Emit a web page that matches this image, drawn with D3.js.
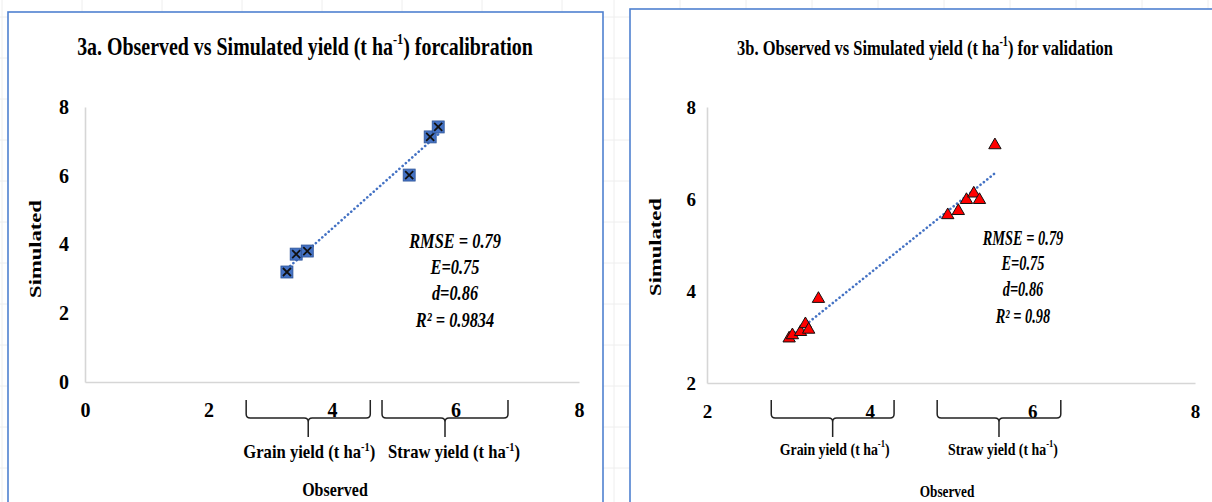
<!DOCTYPE html>
<html>
<head>
<meta charset="utf-8">
<script src="https://cdn.jsdelivr.net/npm/d3@7"></script>
<style>
  body { margin: 0; background: #fff; }
  svg { display: block; }
</style>
</head>
<body>
<div id="main"></div>
<script>
// 3a - calibration (observed vs simulated, t/ha)
const calibObserved  = [3.27, 3.42, 3.60, 5.25, 5.59, 5.72];
const calibSimulated = [3.20, 3.72, 3.81, 6.02, 7.13, 7.42];
const calibStats = ['RMSE = 0.79', 'E=0.75', 'd=0.86', 'R² = 0.9834'];

// 3b - validation
const validObserved  = [3.01, 3.05, 3.15, 3.21, 3.25, 3.37, 4.96, 5.09, 5.19, 5.28, 5.35, 5.54];
const validSimulated = [2.97, 3.04, 3.11, 3.28, 3.16, 3.83, 5.65, 5.74, 5.98, 6.12, 5.98, 7.17];
const validStats = ['RMSE = 0.79', 'E=0.75', 'd=0.86', 'R² = 0.98'];

// axis ticks
const calibTicks = [0, 2, 4, 6, 8];
const validTicks = [2, 4, 6, 8];

// brace groups under the x axis (observed ranges)
const groupNames = ['Grain yield (t ha', 'Straw yield (t ha'];
const calibBraces = [[2.61, 4.62], [4.81, 6.85]];
const validBraces = [[2.79, 4.30], [4.83, 6.35]];

const width = 1212, height = 502;
const serif = '"Liberation Serif", "Times New Roman", serif';

let svg = d3.select('#main')
  .append('svg')
    .attr('width', width)
    .attr('height', height);

svg.append('rect').attr('width', width).attr('height', height).attr('fill', '#fff');

// faint spreadsheet grid behind the chart boxes
const grid = svg.append('g').attr('stroke', '#eeeeee').attr('stroke-width', 1);
d3.range(2, 620, 80).forEach(x => grid.append('line').attr('x1', x).attr('x2', x).attr('y1', 0).attr('y2', height));
d3.range(614, width, 66).forEach(x => grid.append('line').attr('x1', x).attr('x2', x).attr('y1', 0).attr('y2', height));
d3.range(17, height, 41).forEach(y => grid.append('line').attr('x1', 0).attr('x2', width).attr('y1', y).attr('y2', y));

// text helper: parts can be strings or {sup: '...'}; width squeezes text horizontally
function label(parent, x, y, parts, o) {
  const g = parent.append('g')
    .attr('transform', `translate(${x},${y})` + (o.rotate ? ` rotate(${o.rotate})` : ''));
  const t = g.append('text')
    .attr('font-family', serif)
    .attr('font-size', o.size)
    .attr('font-weight', o.weight || 'bold')
    .attr('font-style', o.italic ? 'italic' : 'normal')
    .attr('text-anchor', o.anchor || 'middle')
    .attr('dominant-baseline', 'central')
    .attr('fill', '#000');
  (Array.isArray(parts) ? parts : [parts]).forEach(p => {
    if (typeof p === 'string') t.append('tspan').text(p);
    else t.append('tspan').attr('font-size', '0.62em').attr('baseline-shift', '45%').text(p.sup);
  });
  if (o.width) {
    const w = t.node().getBBox().width;
    t.attr('transform', `scale(${o.width / w},1)`);
  } else if (o.sx) {
    t.attr('transform', `scale(${o.sx},1)`);
  }
  return t;
}

function regression(xs, ys) {
  const mx = d3.mean(xs), my = d3.mean(ys);
  const sxy = d3.sum(xs, (v, i) => (v - mx) * (ys[i] - my));
  const sxx = d3.sum(xs, v => (v - mx) * (v - mx));
  const slope = sxy / sxx;
  return { slope, intercept: my - slope * mx };
}

function drawPanel(cfg) {
  const g = svg.append('g');

  // chart box
  g.append('rect')
    .attr('x', cfg.box[0]).attr('y', cfg.box[1])
    .attr('width', cfg.box[2]).attr('height', cfg.box[3])
    .attr('fill', '#fff')
    .attr('stroke', '#4f81d0')
    .attr('stroke-width', 1.6);

  const x = d3.scaleLinear().domain(cfg.xDomain).range(cfg.xRange);
  const y = d3.scaleLinear().domain(cfg.yDomain).range(cfg.yRange);

  // axes
  const yAxis = g.append('g')
    .attr('transform', `translate(${cfg.xRange[0]},0)`)
    .call(d3.axisLeft(y).tickValues(cfg.ticks).tickSize(0).tickPadding(cfg.yPad).tickFormat(d3.format('d')));
  const xAxis = g.append('g')
    .attr('transform', `translate(0,${cfg.yRange[0]})`)
    .call(d3.axisBottom(x).tickValues(cfg.ticks).tickSize(0).tickPadding(cfg.xPad).tickFormat(d3.format('d')));
  [xAxis, yAxis].forEach(a => {
    a.select('.domain').attr('stroke', '#d6d6d6').attr('stroke-width', 1.6);
    a.selectAll('text')
      .attr('font-family', serif)
      .attr('font-weight', 'bold')
      .attr('font-size', cfg.tickSize)
      .attr('fill', '#000');
  });

  // trendline (least squares over the observed range)
  const fit = regression(cfg.obs, cfg.sim);
  const [x0, x1] = d3.extent(cfg.obs);
  g.append('line')
    .attr('x1', x(x0)).attr('y1', y(fit.intercept + fit.slope * x0))
    .attr('x2', x(x1)).attr('y2', y(fit.intercept + fit.slope * x1))
    .attr('stroke', '#4472c4')
    .attr('stroke-width', 2.6)
    .attr('stroke-linecap', 'round')
    .attr('stroke-dasharray', '0.1,4.2');

  // markers
  const pts = cfg.obs.map((v, i) => ({ o: v, s: cfg.sim[i] }));
  const m = g.selectAll('.pt').data(pts).enter().append('g')
    .attr('class', 'pt')
    .attr('transform', d => `translate(${x(d.o)},${y(d.s)})`);
  if (cfg.marker === 'square') {
    m.append('rect')
      .attr('x', -6).attr('y', -6).attr('width', 12).attr('height', 12)
      .attr('fill', '#4472c4').attr('stroke', '#2f5597').attr('stroke-width', 0.8);
    m.append('path')
      .attr('d', 'M-4,-4L4,4M4,-4L-4,4')
      .attr('stroke', '#111').attr('stroke-width', 1.8);
  } else {
    m.append('path')
      .attr('d', d3.symbol(d3.symbolTriangle, 66))
      .attr('fill', '#ff0000').attr('stroke', '#111').attr('stroke-width', 1);
  }

  // statistics block
  cfg.stats.forEach((s, i) => {
    label(g, cfg.statsX, cfg.statsY[i], s, { size: cfg.statsSize, italic: true, sx: cfg.statsSx });
  });

  // braces under the axis
  cfg.braces.forEach((b, i) => {
    const a = x(b[0]), c = x(b[1]), mid = (a + c) / 2;
    const top = 400, bar = 418, stem = 437, r = 4;
    g.append('path')
      .attr('d', `M${a},${top}L${a},${bar - r}Q${a},${bar} ${a + r},${bar}L${mid - r},${bar}Q${mid},${bar} ${mid},${bar + r}` +
                 `L${mid},${stem}M${mid},${bar + r}Q${mid},${bar} ${mid + r},${bar}L${c - r},${bar}Q${c},${bar} ${c},${bar - r}L${c},${top}`)
      .attr('fill', 'none')
      .attr('stroke', '#222')
      .attr('stroke-width', 1.5);
    label(g, mid + cfg.groupShift[i], cfg.groupY, [groupNames[i], { sup: '-1' }, ')'],
      { size: cfg.groupSize, width: cfg.groupW });
  });

  label(g, cfg.obsLabel[0], cfg.obsLabel[1], 'Observed', { size: cfg.groupSize, width: cfg.obsW });
  label(g, cfg.simLabel[0], cfg.simLabel[1], 'Simulated', { size: 16, rotate: -90, width: 98 });

  label(g, cfg.title[0], cfg.title[1], cfg.titleParts, { size: cfg.titleSize, width: cfg.titleW });
}

drawPanel({
  box: [8, 12, 595, 520],
  xDomain: [0, 8], xRange: [85, 579],
  yDomain: [0, 8], yRange: [382, 107],
  ticks: calibTicks, yPad: 16, xPad: 21, tickSize: 20,
  obs: calibObserved, sim: calibSimulated, marker: 'square',
  stats: calibStats, statsX: 455, statsY: [240, 266, 292, 319], statsSize: 21, statsSx: 0.78,
  braces: calibBraces, groupShift: [1, 9], groupY: 452, groupSize: 19, groupW: 132,
  obsLabel: [335, 490], obsW: 66,
  simLabel: [35, 249],
  title: [305, 46], titleSize: 25, titleW: 456,
  titleParts: ['3a. Observed vs Simulated yield (t ha', { sup: '-1' }, ') forcalibration']
});

drawPanel({
  box: [630, 9, 600, 520],
  xDomain: [2, 8], xRange: [707, 1195],
  yDomain: [2, 8], yRange: [383, 107],
  ticks: validTicks, yPad: 11, xPad: 22, tickSize: 19,
  obs: validObserved, sim: validSimulated, marker: 'triangle',
  stats: validStats, statsX: 1023, statsY: [238, 263, 289, 316], statsSize: 20, statsSx: 0.72,
  braces: validBraces, groupShift: [2, 4], groupY: 448, groupSize: 17, groupW: 110,
  obsLabel: [947, 490], obsW: 55,
  simLabel: [655, 247],
  title: [925, 47], titleSize: 22, titleW: 376,
  titleParts: ['3b. Observed vs Simulated yield (t ha', { sup: '-1' }, ') for validation']
});
</script>
</body>
</html>
